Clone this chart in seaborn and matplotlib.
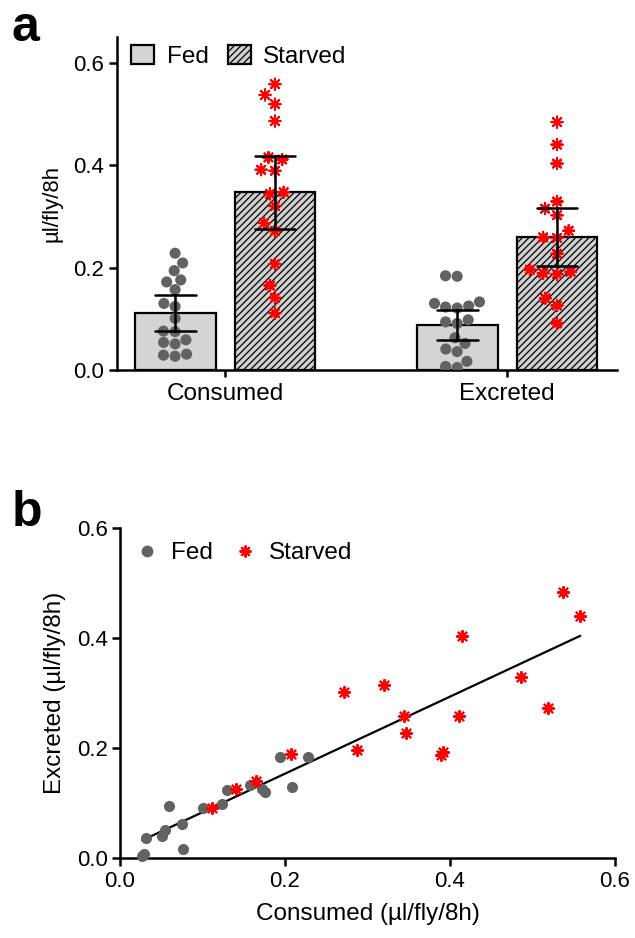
import numpy as np
import pandas as pd
import matplotlib
matplotlib.use("Agg")
import matplotlib.pyplot as plt
import matplotlib.transforms as mtransforms
from matplotlib.lines import Line2D
import seaborn as sns

# ---------------- data ----------------
conditions = ["Fed", "Starved"]
measures = ["Consumed", "Excreted"]

fed_consumed = [0.027, 0.029, 0.031, 0.051, 0.054, 0.059, 0.075, 0.076, 0.101,
                0.124, 0.130, 0.157, 0.172, 0.176, 0.194, 0.209, 0.228]
fed_excreted = [0.005, 0.007, 0.036, 0.041, 0.052, 0.094, 0.063, 0.017, 0.091,
                0.098, 0.123, 0.133, 0.125, 0.121, 0.184, 0.130, 0.183]
starved_consumed = [0.111, 0.141, 0.165, 0.207, 0.271, 0.287, 0.320, 0.344, 0.347,
                    0.389, 0.391, 0.411, 0.415, 0.486, 0.519, 0.537, 0.558]
starved_excreted = [0.091, 0.126, 0.140, 0.189, 0.302, 0.196, 0.315, 0.259, 0.227,
                    0.187, 0.192, 0.258, 0.403, 0.329, 0.272, 0.484, 0.440]

ticks_a = [0.0, 0.2, 0.4, 0.6]
ticks_b = [0.0, 0.2, 0.4, 0.6]

# long table for panel a
rows = []
for cond, cons, exc in [("Fed", fed_consumed, fed_excreted),
                        ("Starved", starved_consumed, starved_excreted)]:
    for v in cons:
        rows.append(("Consumed", cond, v))
    for v in exc:
        rows.append(("Excreted", cond, v))
df = pd.DataFrame(rows, columns=["measure", "condition", "value"])

# ---------------- style ----------------
sns.set_style("ticks")
plt.rcParams["font.family"] = ["Liberation Sans", "DejaVu Sans"]
plt.rcParams["hatch.linewidth"] = 0.9
plt.rcParams["axes.linewidth"] = 1.8
for key in ["text.color", "axes.labelcolor", "xtick.color", "ytick.color",
            "axes.edgecolor", "xtick.labelcolor", "ytick.labelcolor"]:
    plt.rcParams[key] = "black"

bar_colors = {"Fed": "#d4d4d4", "Starved": "#d0d0d0"}
point_colors = {"Fed": "#626262", "Starved": "#ff0000"}
asterisk = (8, 2, 0)

fig = plt.figure(figsize=(6.35, 9.38), dpi=100)

# ---------------- panel a ----------------
ax = fig.add_axes([0.1838, 0.6055, 0.788, 0.355])
sns.barplot(data=df, x="measure", y="value", hue="condition", order=measures,
            hue_order=conditions, palette=bar_colors, errorbar=("se", 2.12),
            capsize=0.29, err_kws={"color": "black", "linewidth": 1.8},
            width=0.708, gap=0.19, edgecolor="black", linewidth=1.6,
            ax=ax, legend=False)
for bar in ax.containers[1]:
    bar.set_hatch("/////")
for cont in ax.containers:
    for bar in cont:
        bar.set_zorder(1)
for ln in ax.lines:
    ln.set_zorder(5)

n0 = len(ax.collections)
sns.swarmplot(data=df[df.condition == "Fed"], x="measure", y="value",
              hue="condition", order=measures, hue_order=conditions,
              dodge=True, palette=point_colors, size=8.0, ax=ax, legend=False)
fed_colls = ax.collections[n0:]
n1 = len(ax.collections)
sns.swarmplot(data=df[df.condition == "Starved"], x="measure", y="value",
              hue="condition", order=measures, hue_order=conditions,
              dodge=True, palette=point_colors, size=8.0, marker=asterisk,
              linewidth=1.5, ax=ax, legend=False)
starved_colls = ax.collections[n1:]

# align the swarms with the bar centres
def bar_center(p):
    return p.get_x() + p.get_width() / 2

dx_fed = bar_center(ax.containers[0][0]) - (0 - 0.2)
dx_starved = bar_center(ax.containers[1][0]) - (0 + 0.2)
for coll in fed_colls:
    coll.set_offset_transform(mtransforms.Affine2D().translate(dx_fed, 0) + ax.transData)
    coll.set_zorder(3)
for coll in starved_colls:
    coll.set_offset_transform(mtransforms.Affine2D().translate(dx_starved, 0) + ax.transData)
    coll.set_zorder(3)

ax.set_xlim(-0.384, 1.39)
ax.set_ylim(0, 0.65)
ax.set_yticks(ticks_a)
ax.set_xlabel("")
ax.set_ylabel("µl/fly/8h", fontsize=16, labelpad=8)
ax.tick_params(axis="y", length=6, width=1.8, labelsize=16, pad=3)
ax.tick_params(axis="x", length=5, width=1.8, labelsize=17.5, pad=4)
sns.despine(ax=ax)
ax.legend(handles=[ax.containers[0][0], ax.containers[1][0]], labels=conditions,
          loc="upper left", bbox_to_anchor=(0.0, 1.02), ncol=2, frameon=False,
          fontsize=17.5, handlelength=0.95, handleheight=0.85, handletextpad=0.5,
          columnspacing=0.8, borderaxespad=0.2)
fig.text(0.018, 0.995, "a", fontsize=36, fontweight="bold", va="top", ha="left")

# ---------------- panel b ----------------
axb = fig.add_axes([0.189, 0.085, 0.7795, 0.3525])
all_consumed = np.array(fed_consumed + starved_consumed)
all_excreted = np.array(fed_excreted + starved_excreted)
sns.regplot(x=all_consumed, y=all_excreted, scatter=False, ci=None, truncate=True,
            color="black", line_kws={"linewidth": 1.6}, ax=axb)
sns.scatterplot(x=fed_consumed, y=fed_excreted, color=point_colors["Fed"], s=64,
                linewidth=0, ax=axb, clip_on=False, zorder=4)
sns.scatterplot(x=starved_consumed, y=starved_excreted, color=point_colors["Starved"],
                marker=asterisk, s=64, linewidth=1.5, ax=axb, clip_on=False, zorder=4)
axb.set_xlim(0, 0.6)
axb.set_ylim(0, 0.6)
axb.set_xticks(ticks_b)
axb.set_yticks(ticks_b)
axb.set_xlabel("Consumed (µl/fly/8h)", fontsize=17.5, labelpad=8)
axb.set_ylabel("Excreted (µl/fly/8h)", fontsize=17.5, labelpad=8)
axb.tick_params(axis="both", length=6, width=1.8, labelsize=16, pad=3)
sns.despine(ax=axb)
legend_handles = [
    Line2D([], [], linestyle="none", marker="o", markersize=8.5,
           markerfacecolor=point_colors["Fed"], markeredgewidth=0),
    Line2D([], [], linestyle="none", marker=asterisk, markersize=8.5,
           color=point_colors["Starved"], markeredgewidth=1.5),
]
axb.legend(handles=legend_handles, labels=conditions,
           loc="upper left", bbox_to_anchor=(0.0, 1.0), ncol=2, frameon=False,
           fontsize=17.5, handlelength=1.0, handletextpad=0.5, columnspacing=0.8,
           borderaxespad=0.2)
fig.text(0.018, 0.478, "b", fontsize=36, fontweight="bold", va="top", ha="left")

fig.savefig("out.png", dpi=100)
